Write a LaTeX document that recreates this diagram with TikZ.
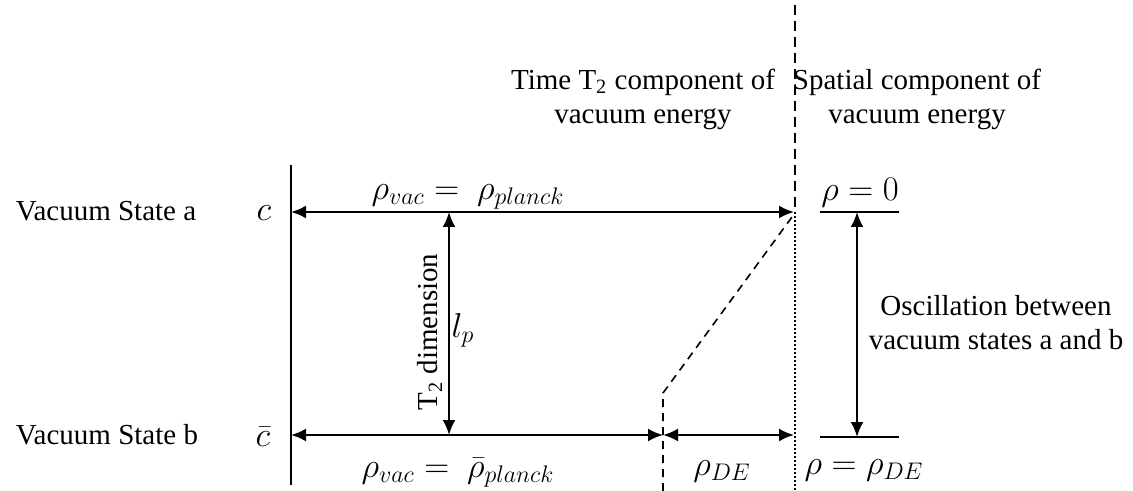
\documentclass[tikz,border=0pt]{standalone}
\usepackage{fontspec}
\setmainfont{Liberation Serif}
\usetikzlibrary{arrows.meta}
\begin{document}
\begin{tikzpicture}[x=0.5pt,y=-0.5pt,
  txt/.style={font=\fontsize{14.5}{17}\selectfont, inner sep=0pt, align=center},
  mth/.style={font=\fontsize{16.5}{20}\selectfont, inner sep=0pt},
  line/.style={line width=1pt},
  dbl/.style={line width=1.1pt, {Latex[length=7.5pt,width=6.5pt]}-{Latex[length=7.5pt,width=6.5pt]}},
  longdash/.style={line width=0.8pt, dash pattern=on 5pt off 3pt},
  shortdash/.style={line width=0.8pt, dash pattern=on 4pt off 3pt},
  dots/.style={line width=0.8pt, dash pattern=on 0.8pt off 1.2pt}]
\useasboundingbox (0,0) rectangle (1133,491);
% coordinates
\coordinate (LT) at (291,165);
\coordinate (LB) at (291,485);
\coordinate (TL) at (291,212);
\coordinate (TR) at (794,212);
\coordinate (BL) at (291,435);
\coordinate (BM) at (663,435);
\coordinate (BR) at (794,435);
\coordinate (VT) at (449,212);
\coordinate (VB) at (449,435);
\coordinate (DTop) at (795,5);
\coordinate (DMid) at (795,212);
\coordinate (DBot) at (795,490);
\coordinate (SBot) at (663,491);
\coordinate (SKnee) at (663,393);
\coordinate (STop) at (792,217);
\coordinate (RTa) at (820,212);
\coordinate (RTb) at (899,212);
\coordinate (RBa) at (820,437);
\coordinate (RBb) at (899,437);
\coordinate (RT) at (857,212);
\coordinate (RB) at (857,437);
% lines
\draw[line] (LT) -- (LB);
\draw[longdash] (DTop) -- (DMid);
\draw[dots] (DMid) -- (DBot);
\draw[shortdash] (SBot) -- (SKnee) -- (STop);
\draw[line] (RTa) -- (RTb);
\draw[line] (RBa) -- (RBb);
% arrows
\draw[dbl] (TL) -- (TR);
\draw[dbl] (VT) -- (VB);
\draw[dbl] (BL) -- (BM);
\draw[dbl] (BM) -- (BR);
\draw[dbl] (RT) -- (RB);
% texts
\node[txt] (sa) at (106,211) {Vacuum State a};
\node[txt] (sb) at (107,435) {Vacuum State b};
\node[mth] (c) at (264,213) {$c$};
\node[mth] (cb) at (263,437) {$\bar{c}$};
\node[mth] (rtop) at (468,197) {$\rho_{vac} = \ \rho_{planck}$};
\node[mth] (rbot) at (458,473) {$\rho_{vac} = \ \bar{\rho}_{planck}$};
\node[txt, rotate=90] (t2) at (430,332) {T\textsubscript{2} dimension};
\node[mth] (lp) at (463,330) {$l_p$};
\node[mth] (rde) at (722,471) {$\rho_{DE}$};
\node[mth] (r0) at (860,193) {$\rho = 0$};
\node[mth] (rr) at (864,470) {$\rho = \rho_{DE}$};
\node[txt] (time) at (643,99) {Time T\textsubscript{2} component of\\vacuum energy};
\node[txt] (spat) at (917,99) {Spatial component of\\vacuum energy};
\node[txt] (osc) at (996,323) {Oscillation between\\vacuum states a and b};
\end{tikzpicture}
\end{document}
